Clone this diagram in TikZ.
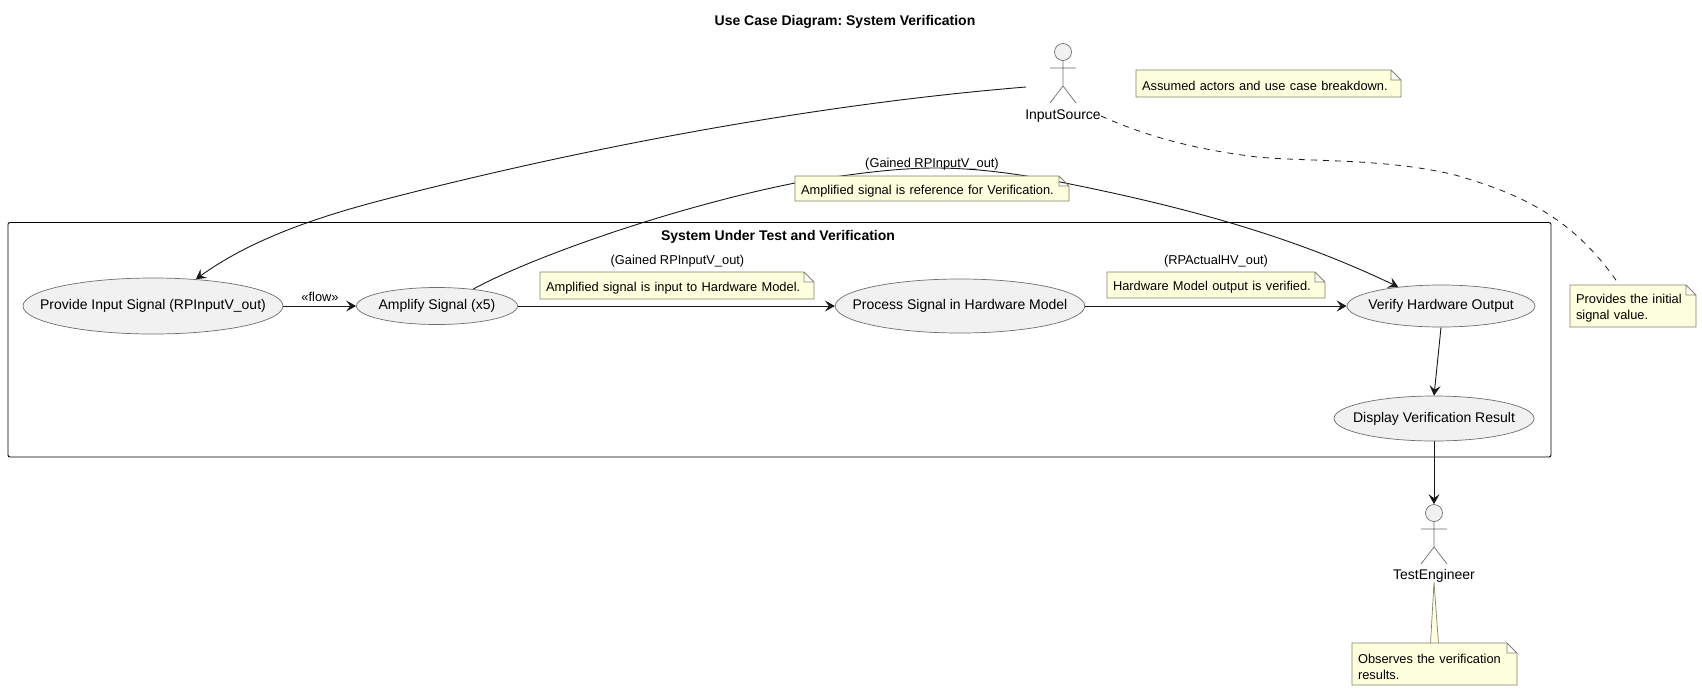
\documentclass[tikz,border=0pt]{standalone}
\usepackage{fontspec}
\setmainfont{Liberation Sans}
\frenchspacing
\usetikzlibrary{arrows.meta,shapes.geometric,backgrounds}

\definecolor{notefill}{HTML}{FEFFDD}
\definecolor{noteline}{HTML}{84846A}
\definecolor{casefill}{HTML}{F1F1F1}
\definecolor{caseline}{HTML}{6E6E6E}

\newcommand{\casetext}[1]{\raisebox{-1.5pt}{\makebox[0pt]{#1}}}

\makeatletter
\pgfdeclareshape{notepage}{
  \inheritsavedanchors[from=rectangle]
  \inheritanchorborder[from=rectangle]
  \inheritanchor[from=rectangle]{center}
  \inheritanchor[from=rectangle]{north}
  \inheritanchor[from=rectangle]{south}
  \inheritanchor[from=rectangle]{east}
  \inheritanchor[from=rectangle]{west}
  \backgroundpath{
    \southwest \pgf@xa=\pgf@x \pgf@ya=\pgf@y
    \northeast \pgf@xb=\pgf@x \pgf@yb=\pgf@y
    \pgf@xc=\pgf@xb \advance\pgf@xc by -10pt
    \pgf@yc=\pgf@yb \advance\pgf@yc by -10pt
    \pgfpathmoveto{\pgfqpoint{\pgf@xa}{\pgf@ya}}
    \pgfpathlineto{\pgfqpoint{\pgf@xa}{\pgf@yb}}
    \pgfpathlineto{\pgfqpoint{\pgf@xc}{\pgf@yb}}
    \pgfpathlineto{\pgfqpoint{\pgf@xb}{\pgf@yc}}
    \pgfpathlineto{\pgfqpoint{\pgf@xb}{\pgf@ya}}
    \pgfpathclose
    \pgfpathmoveto{\pgfqpoint{\pgf@xc}{\pgf@yb}}
    \pgfpathlineto{\pgfqpoint{\pgf@xc}{\pgf@yc}}
    \pgfpathlineto{\pgfqpoint{\pgf@xb}{\pgf@yc}}
  }
}
\makeatother

\tikzset{
  actor fig/.pic={
    \node[actor head] (head) at (0,0) {};
    \draw[actor limb] (head.south) -- (0,34) (-13,16) -- (13,16) (-13,51) -- (0,34) -- (13,51);
  }
}

\begin{document}
\begin{tikzpicture}[x=1pt,y=-1pt,
    use case/.style={ellipse,fill=casefill,draw=caseline,line width=0.7pt,inner sep=0pt,font=\fontsize{14}{16}\selectfont},
    note box/.style={shape=notepage,fill=notefill,draw=noteline,line width=0.8pt,inner xsep=6pt,inner ysep=0pt,outer sep=0pt,align=left,font=\fontsize{12.85}{16}\selectfont,execute at begin node={\endgraf\vspace{-1.5pt}}},
    flow label/.style={inner sep=0pt,font=\fontsize{12.85}{15}\selectfont},
    actor label/.style={inner sep=0pt,font=\fontsize{14}{16}\selectfont},
    actor head/.style={circle,fill=casefill,draw=caseline,line width=0.7pt,minimum size=17pt,inner sep=0pt},
    actor limb/.style={draw=caseline,line width=0.7pt},
    note link/.style={draw=noteline,line width=0.7pt,fill=notefill},
    flow/.style={black!90,line width=0.9pt,-{Stealth[length=10pt,width=11pt,inset=4pt]}}
  ]
  \useasboundingbox (0,0) rectangle (1702,691);

  \node[inner sep=0pt,font=\bfseries\fontsize{14}{16}\selectfont] (title) at (845,21.5) {Use Case Diagram: System Verification};

  \node[draw,line width=0.9pt,rounded corners=2pt,minimum width=1543pt,minimum height=234.5pt,inner sep=0pt] (system) at (779.5,339.75) {};
  \node[inner sep=0pt,font=\bfseries\fontsize{14}{16}\selectfont] (systitle) at (778,236.5) {System Under Test and Verification};

  \node[use case,minimum width=260pt,minimum height=56pt] (provide) at (153,306) {\casetext{Provide Input Signal (RPInputV\_out)}};
  \node[use case,minimum width=161pt,minimum height=37pt] (amplify) at (437,306) {\casetext{Amplify Signal (x5)}};
  \node[use case,minimum width=249.5pt,minimum height=54pt] (process) at (960,306) {\casetext{Process Signal in Hardware Model}};
  \node[use case,minimum width=188pt,minimum height=42pt] (verify) at (1441,306) {\casetext{Verify Hardware Output}};
  \node[use case,minimum width=200pt,minimum height=45pt] (display) at (1434,418.5) {\casetext{Display Verification Result}};

  \pic (src) at (1063,52) {actor fig};
  \node[actor label] (srclabel) at (1063,116) {InputSource};
  \coordinate (srcout) at (1026,87);
  \pic (eng) at (1434,513) {actor fig};
  \node[actor label] (englabel) at (1434,575.5) {TestEngineer};

  \node[note box,text width=253pt,minimum height=27pt] (nottop) at (1268.5,83.5) {Assumed actors and use case breakdown.};
  \node[note box,text width=262pt,minimum height=25pt] (notref) at (932,188.5) {Amplified signal is reference for Verification.};
  \node[note box,text width=262pt,minimum height=27pt] (notin) at (677,285.5) {Amplified signal is input to Hardware Model.};
  \node[note box,text width=206pt,minimum height=26pt] (nothw) at (1216,285) {Hardware Model output is verified.};
  \node[note box,text width=114pt,minimum height=42pt] (notsrc) at (1633,306) {Provides the initial\\signal value.};
  \node[note box,text width=153pt,minimum height=42pt] (noteng) at (1434.5,664) {Observes the verification\\results.};

  \node[flow label] (lblflow) at (320,297) {«flow»};
  \node[flow label] (lblin) at (677.5,261.5) {(Gained RPInputV\_out)};
  \node[flow label] (lblref) at (932,164) {(Gained RPInputV\_out)};
  \node[flow label] (lblhw) at (1216,261.5) {(RPActualHV\_out)};

  \begin{scope}[on background layer]
    \fill[white] (0,0) rectangle (1702,691);
    \draw[flow] (srcout) .. controls (805,105) and (565,152) .. (375,202)
                .. controls (315,218) and (250,240) .. (provide.32);
    \draw[flow] (amplify.25) .. controls (530,258) and (670,208) .. (795,183)
                .. controls (840,176) and (890,168) .. (935,168)
                .. controls (980,168) and (1025,175) .. (1065,183)
                .. controls (1200,210) and (1300,240) .. (verify.156);
    \draw[black!90,line width=0.8pt,dash pattern=on 6pt off 6pt] (srclabel.east) .. controls (1150,138) and (1200,150) .. (1257,157)
                .. controls (1310,162) and (1385,158) .. (1455,175)
                .. controls (1525,195) and (1575,220) .. (notsrc.123);
    \path[note link] (1430.5,643.5) -- (englabel.south) -- (1438.5,643.5);
  \end{scope}

  \path[flow]
   (provide) edge (amplify)
   (amplify) edge (process)
   (process) edge (verify)
   (verify.south) edge (display.north)
   (display.south) edge (enghead.north);
\end{tikzpicture}
\end{document}
